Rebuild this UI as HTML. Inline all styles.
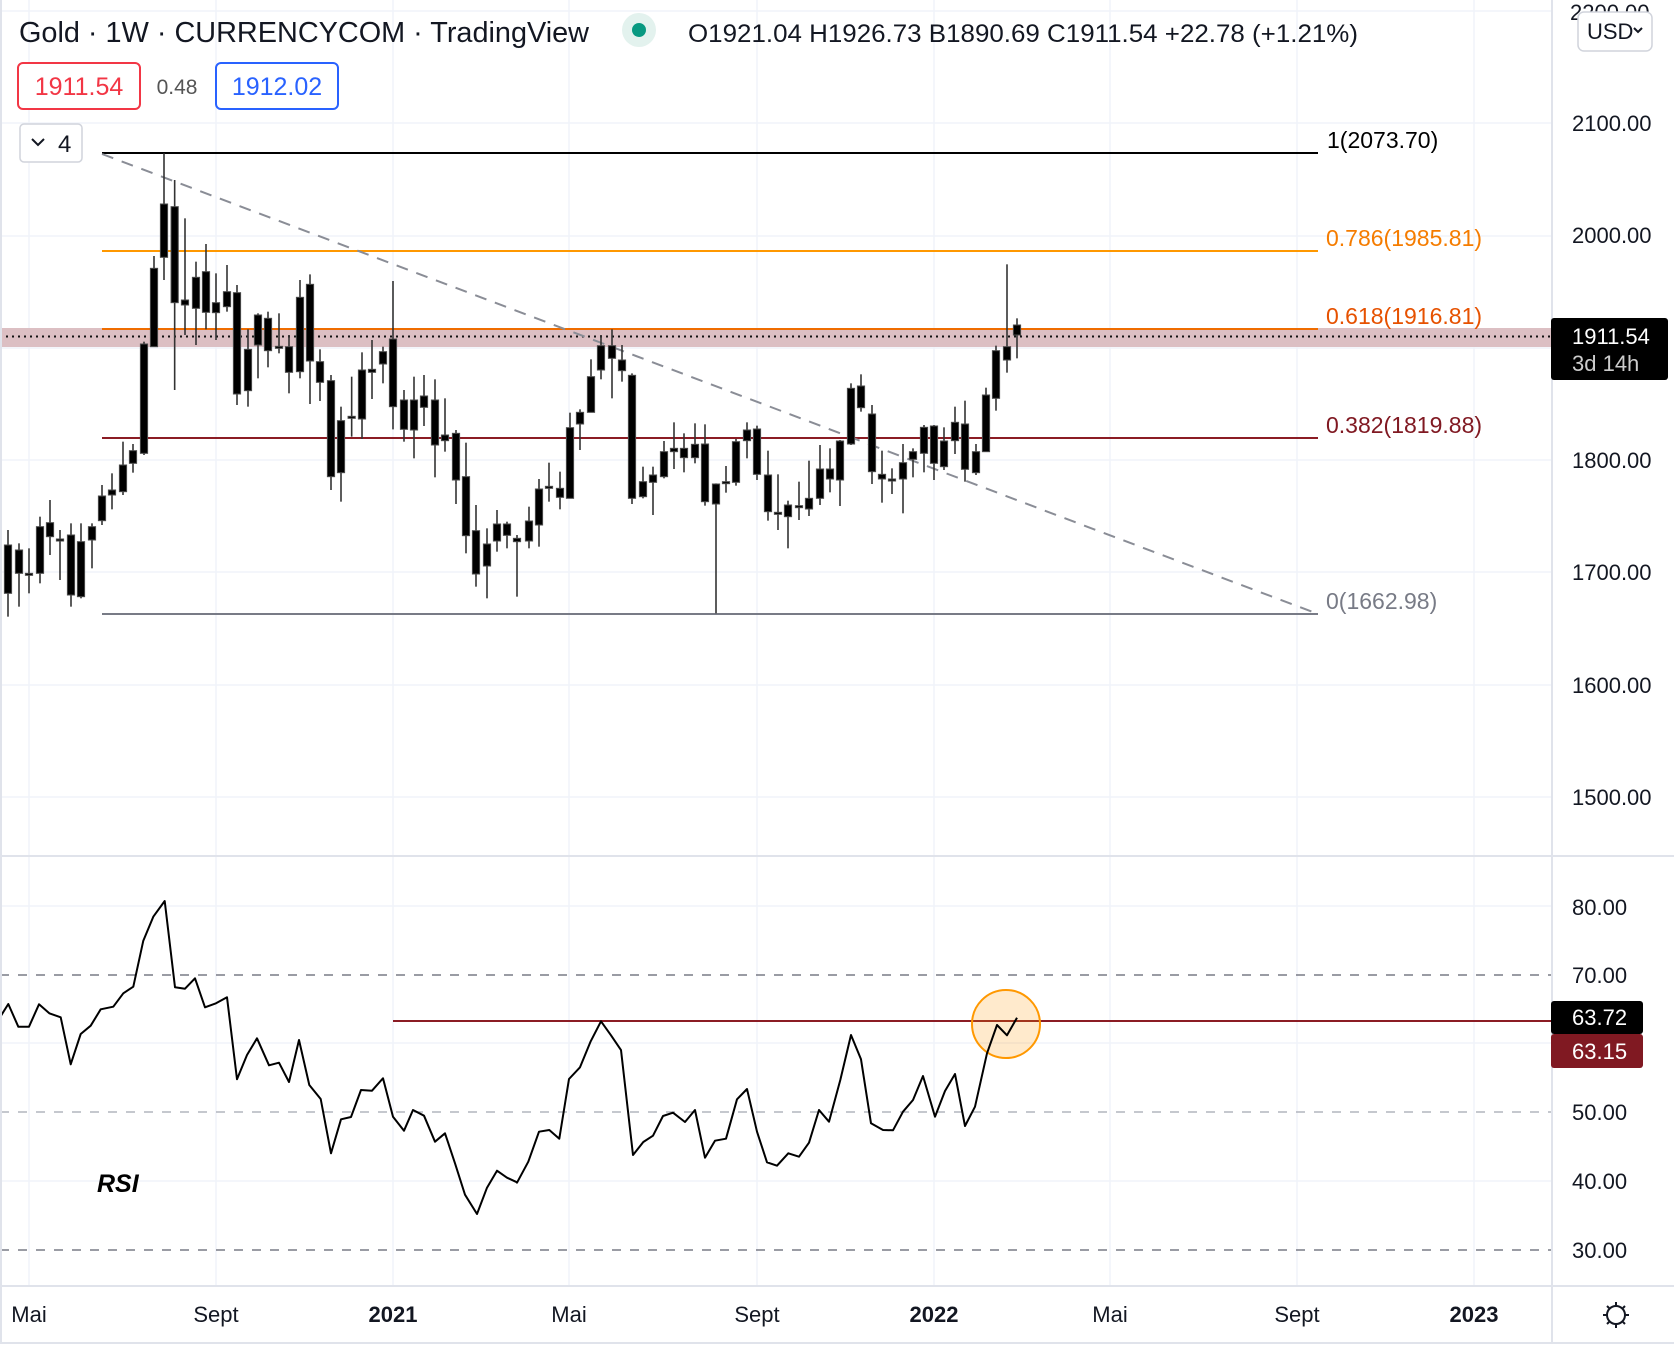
<!DOCTYPE html>
<html><head><meta charset="utf-8"><style>
html,body{margin:0;padding:0;background:#fff;}
svg{display:block;font-family:"Liberation Sans",sans-serif;}
</style></head><body>
<svg id="s" width="1674" height="1350" viewBox="0 0 1674 1350" xmlns="http://www.w3.org/2000/svg">
<rect width="1674" height="1350" fill="#fff"/>
<g id="grid" stroke="#f0f3fa" stroke-width="1.5"></g>
<!-- pink band -->
<rect x="0" y="328" width="1552" height="19" fill="#dcbfc3"/>
<line x1="0" y1="336.5" x2="1552" y2="336.5" stroke="#111" stroke-width="2" stroke-dasharray="2,4"/>
<!-- fib lines -->
<line x1="102" y1="153" x2="1318" y2="153" stroke="#000" stroke-width="2"/>
<line x1="102" y1="251" x2="1318" y2="251" stroke="#ff9800" stroke-width="2"/>
<line x1="102" y1="329" x2="1318" y2="329" stroke="#ef6c00" stroke-width="2"/>
<line x1="102" y1="438" x2="1318" y2="438" stroke="#8b1c24" stroke-width="2"/>
<line x1="102" y1="614" x2="1318" y2="614" stroke="#787b86" stroke-width="2"/>
<line x1="102" y1="154" x2="1318" y2="614" stroke="#8a8d96" stroke-width="2" stroke-dasharray="12,9"/>
<g id="candles"></g>
<g font-size="23">
<text x="1327" y="148" fill="#000">1(2073.70)</text>
<text x="1326" y="246" fill="#f57c00">0.786(1985.81)</text>
<text x="1326" y="324" fill="#e65100">0.618(1916.81)</text>
<text x="1326" y="433" fill="#801922">0.382(1819.88)</text>
<text x="1326" y="609" fill="#787b86">0(1662.98)</text>
</g>
<!-- RSI pane -->
<line x1="0" y1="975" x2="1552" y2="975" stroke="#787b86" stroke-width="1.5" stroke-dasharray="9,9"/>
<line x1="0" y1="1112" x2="1552" y2="1112" stroke="#b2b5be" stroke-width="1.5" stroke-dasharray="9,9"/>
<line x1="0" y1="1250" x2="1552" y2="1250" stroke="#787b86" stroke-width="1.5" stroke-dasharray="9,9"/>
<line x1="393" y1="1021" x2="1552" y2="1021" stroke="#8b1c24" stroke-width="2"/>
<circle cx="1006" cy="1024" r="34" fill="rgba(255,152,0,0.2)" stroke="#ff9800" stroke-width="2"/>
<polyline id="rsi" fill="none" stroke="#000" stroke-width="2" stroke-linejoin="round"/>
<text x="97" y="1192" font-size="25" font-weight="bold" font-style="italic" fill="#000">RSI</text>
<!-- separators -->
<rect x="1552" y="0" width="122" height="1350" fill="#fff"/>
<line x1="1552" y1="0" x2="1552" y2="1343" stroke="#e0e3eb" stroke-width="2"/>
<line x1="0" y1="856" x2="1674" y2="856" stroke="#e0e3eb" stroke-width="2"/>
<line x1="0" y1="1286" x2="1674" y2="1286" stroke="#e0e3eb" stroke-width="2"/>
<line x1="0" y1="1343" x2="1674" y2="1343" stroke="#e0e3eb" stroke-width="2"/>
<line x1="1" y1="0" x2="1" y2="1343" stroke="#e0e3eb" stroke-width="2"/>
<!-- price axis -->
<g font-size="22" fill="#131722">
<text x="1570" y="20">2200.00</text>
<text x="1572" y="131">2100.00</text>
<text x="1572" y="243">2000.00</text>
<text x="1572" y="468">1800.00</text>
<text x="1572" y="580">1700.00</text>
<text x="1572" y="693">1600.00</text>
<text x="1572" y="805">1500.00</text>
<text x="1572" y="915">80.00</text>
<text x="1572" y="983">70.00</text>
<text x="1572" y="1120">50.00</text>
<text x="1572" y="1189">40.00</text>
<text x="1572" y="1258">30.00</text>
</g>
<rect x="1578" y="12" width="74" height="39" rx="6" fill="#fff" stroke="#d1d4dc" stroke-width="1.5"/>
<text x="1587" y="39" font-size="22" fill="#131722">USD</text>
<path d="M1634 28 l4 4 l4 -4" fill="none" stroke="#131722" stroke-width="2"/>
<rect x="1551" y="318" width="117" height="62" rx="3" fill="#000"/>
<text x="1572" y="344" font-size="22" fill="#fff">1911.54</text>
<text x="1572" y="371" font-size="22" fill="#ccc">3d 14h</text>
<rect x="1551" y="1001" width="92" height="33" rx="3" fill="#000"/>
<text x="1572" y="1025" font-size="22" fill="#fff">63.72</text>
<rect x="1551" y="1034" width="92" height="34" rx="3" fill="#801922"/>
<text x="1572" y="1059" font-size="22" fill="#fff">63.15</text>
<!-- time axis -->
<g font-size="22" fill="#131722" text-anchor="middle">
<text x="29" y="1322">Mai</text>
<text x="216" y="1322">Sept</text>
<text x="393" y="1322" font-weight="bold">2021</text>
<text x="569" y="1322">Mai</text>
<text x="757" y="1322">Sept</text>
<text x="934" y="1322" font-weight="bold">2022</text>
<text x="1110" y="1322">Mai</text>
<text x="1297" y="1322">Sept</text>
<text x="1474" y="1322" font-weight="bold">2023</text>
</g>
<g stroke="#131722" stroke-width="2" fill="none">
<circle cx="1616" cy="1315" r="9"/>
<path d="M1616 1302v4M1616 1324v4M1603 1315h4M1625 1315h4M1607 1306l2 2M1623 1322l2 2M1607 1324l2-2M1623 1308l2-2"/>
</g>
<!-- header -->
<text x="19" y="42" font-size="29" fill="#131722" textLength="570" lengthAdjust="spacingAndGlyphs">Gold · 1W · CURRENCYCOM · TradingView</text>
<circle cx="639" cy="30" r="17" fill="#e3f2ee"/>
<circle cx="639" cy="30" r="7" fill="#089981"/>
<text x="688" y="42" font-size="25" fill="#131722" textLength="670" lengthAdjust="spacingAndGlyphs">O1921.04 H1926.73 B1890.69 C1911.54 +22.78 (+1.21%)</text>
<rect x="18" y="63" width="122" height="46" rx="5" fill="#fff" stroke="#f23645" stroke-width="2"/>
<text x="79" y="95" font-size="25" fill="#f23645" text-anchor="middle">1911.54</text>
<text x="177" y="94" font-size="21" fill="#555" text-anchor="middle">0.48</text>
<rect x="216" y="63" width="122" height="46" rx="5" fill="#fff" stroke="#2962ff" stroke-width="2"/>
<text x="277" y="95" font-size="25" fill="#2962ff" text-anchor="middle">1912.02</text>
<rect x="20" y="124" width="62" height="38" rx="4" fill="#fff" stroke="#d1d4dc" stroke-width="1.5"/>
<path d="M32 139l6 6l6-6" fill="none" stroke="#131722" stroke-width="2"/>
<text x="58" y="152" font-size="24" fill="#131722">4</text>
</svg>
<script>
var NS="http://www.w3.org/2000/svg";
function el(p,t,a){var e=document.createElementNS(NS,t);for(var k in a)e.setAttribute(k,a[k]);p.appendChild(e);return e;}
var g=document.getElementById('grid');
[29,216,393,569,757,934,1110,1297,1474].forEach(function(x){el(g,'line',{x1:x,y1:0,x2:x,y2:1286});});
[11,123,236,348,460,572,685,797,906,1043,1181].forEach(function(y){el(g,'line',{x1:0,y1:y,x2:1552,y2:y});});
var A=[[24,1215,1360,1170,1430],[57,1230,1300,1210,1400],[87,1303,1303,1225,1360],[120,1160,1300,1130,1330],[150,1148,1190,1080,1245],[180,1200,1200,1170,1320],[213,1185,1365,1150,1400],[243,1205,1370,1150,1375],[276,1160,1200,1150,1285],[306,1068,1142,1035,1155],[336,1050,1065,1000,1108],[369,975,1055,905,1065],[399,932,970,912,998],[432,612,940,605,945],[462,385,620,348,620],[492,192,352,40,420],[524,200,488,120,750],[555,480,495,235,585],[588,412,505,365,615],[618,395,517,312,568],[648,488,518,400,600],[681,455,500,375,515],[711,458,762,435,795],[744,628,752,568,800],[774,525,615,520,715],[804,535,632,515,682],[837,622,622,520,640],[867,620,697,585,760],[900,472,695,420,715],[930,433,663,403,792],[960,665,727,628,783],[993,722,1010,705,1050],[1023,842,998,800,1085],[1055,832,832,710,890],[1086,690,837,637,897],[1116,688,697,600,777],[1149,635,672,620,730],[1179,597,800,423,868],[1212,780,868,750,905],[1242,780,870,710,955],[1272,768,802,705,858],[1305,780,915,718,1012],[1335,885,902,775,935],[1368,880,1020,870,1092],[1398,1010,1187,908,1240],[1428,1172,1302,1095,1340],[1461,1212,1278,1165,1375],[1491,1152,1203,1110,1235],[1521,1152,1186,1145,1225],[1551,1195,1205,1185,1370]];
var B=[[87,1143,1203,1100,1225],[117,1047,1155,1017,1220],[147,1042,1042,968,1085],[180,1045,1072,995,1108],[210,863,1075,818,1075],[240,817,852,808,930],[273,710,817,658,817],[303,617,690,585,718],[336,617,655,568,775],[366,660,692,615,725],[396,706,1075,700,1092],[429,1025,1070,980,1075],[459,1005,1027,980,1125],[492,935,1010,903,1015],[522,925,935,847,987],[552,925,953,880,997],[585,913,953,850,970],[615,912,1085,853,1097],[648,1032,1092,1030,1420],[678,1028,1028,978,1058],[708,905,1027,897,1037],[741,870,902,847,955],[771,867,1003,857,1020],[804,1005,1115,932,1142],[834,1120,1120,1003,1170],[864,1095,1130,1082,1225],[897,1100,1100,1025,1140],[927,1075,1107,962,1128],[960,987,1075,915,1095],[990,987,1017,925,1057],[1020,903,1020,900,1098],[1053,745,912,730,915],[1083,738,803,703,815],[1116,822,995,795,1032],[1146,1003,1017,932,1088],[1176,1020,1020,985,1062],[1209,968,1017,912,1120],[1239,935,958,925,1012],[1272,862,940,855,997],[1302,858,970,855,1020],[1332,903,980,862,990],[1365,847,902,800,942],[1395,852,988,782,1025],[1428,935,998,912,1005],[1458,765,935,743,935],[1488,632,775,617,812],[1521,620,660,373,698],[1551,555,585,535,655]];
var c=document.getElementById('candles');
function draw(d,off){var x=off+d[0]/3,bt=140+d[1]/3,bb=140+d[2]/3,wt=140+d[3]/3,wb=140+d[4]/3;
el(c,'line',{x1:x,y1:wt,x2:x,y2:wb,stroke:'#333','stroke-width':1.6});
var h=Math.max(bb-bt,2);el(c,'rect',{x:x-3.6,y:bt-(bb-bt<2?1:0),width:7.2,height:h,fill:'#000',stroke:'#4a4a4a','stroke-width':1});}
A.forEach(function(d){draw(d,0);});B.forEach(function(d){draw(d,500);});
var R1=[[0,412],[25,372],[55,440],[87,440],[117,373],[148,400],[182,412],[212,553],[242,462],[272,437],[302,388],[340,380],[370,340],[400,320],[430,182],[460,110],[494,63],[525,322],[555,326],[585,295],[615,382],[648,370],[681,352],[711,598],[741,525],[771,475],[807,556],[837,548],[867,606],[897,480],[928,615],[962,657],[993,820],[1023,718],[1053,711],[1083,630],[1116,632],[1149,595],[1179,710],[1212,752],[1239,690],[1272,707],[1305,785],[1335,760],[1365,850],[1395,944],[1431,1002],[1461,923],[1491,872],[1521,893],[1551,907]];
var R2=[[51,908],[85,845],[117,755],[148,750],[178,776],[207,597],[240,562],[272,484],[303,424],[333,466],[363,510],[399,825],[430,786],[459,767],[489,708],[519,698],[555,726],[585,690],[615,833],[645,782],[678,776],[711,658],[741,627],[771,755],[801,847],[831,857],[865,820],[897,830],[927,788],[957,690],[987,725],[1021,600],[1053,465],[1083,538],[1113,730],[1149,750],[1179,751],[1209,695],[1239,660],[1269,588],[1305,710],[1335,633],[1365,582],[1395,738],[1425,680],[1461,520],[1491,435],[1521,466],[1551,413]];
var pts=R1.map(function(p){return (p[0]/3).toFixed(1)+','+(880+p[1]/3).toFixed(1);}).concat(R2.map(function(p){return (500+p[0]/3).toFixed(1)+','+(880+p[1]/3).toFixed(1);}));
document.getElementById('rsi').setAttribute('points',pts.join(' '));
</script>
</body></html>
